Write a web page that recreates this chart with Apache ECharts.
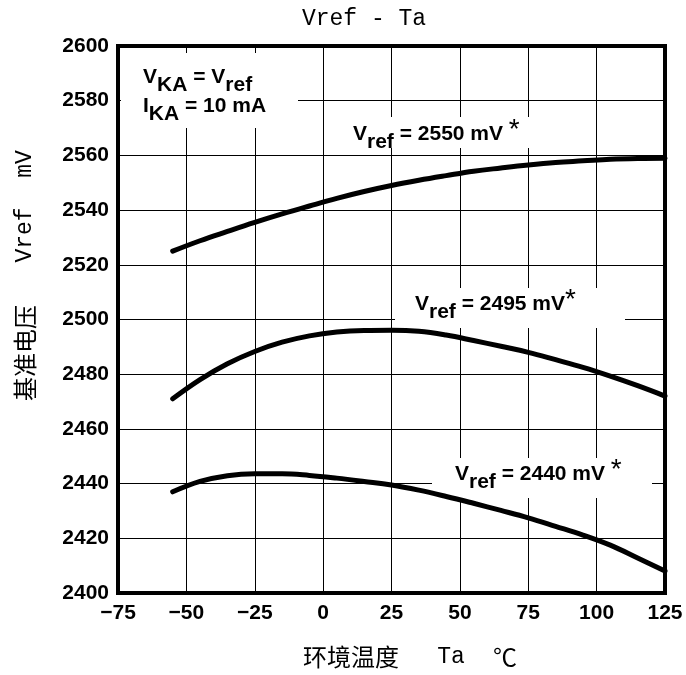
<!DOCTYPE html>
<html>
<head>
<meta charset="utf-8">
<script src="https://cdn.jsdelivr.net/npm/echarts@6/dist/echarts.min.js"></script>
<style>html,body{margin:0;padding:0;background:#fff;}#c{width:686px;height:675px;}</style>
</head>
<body>
<div id="c"></div>
<script>
// Data
const xTicks = [-75, -50, -25, 0, 25, 50, 75, 100, 125];
const yTicks = [2400, 2420, 2440, 2460, 2480, 2500, 2520, 2540, 2560, 2580, 2600];
const ta = [-55, -45, -35, -25, -15, -5, 5, 15, 25, 35, 45, 55, 65, 75, 85, 95, 105, 115, 125];
const v2550 = [2525, 2528.8, 2532.2, 2535.5, 2538.6, 2541.5, 2544.3, 2546.8, 2549, 2550.9, 2552.6, 2554.2, 2555.4, 2556.5, 2557.4, 2558, 2558.6, 2558.9, 2559];
const v2495 = [2471, 2478, 2483.8, 2488.3, 2491.7, 2494, 2495.4, 2496, 2496.1, 2495.7, 2494.3, 2492.3, 2490.2, 2488, 2485.3, 2482.5, 2479.3, 2475.8, 2472];
const v2440 = [2437, 2440.8, 2442.9, 2443.6, 2443.6, 2443, 2442, 2440.8, 2439.5, 2437.6, 2435.3, 2432.8, 2430.2, 2427.5, 2424.4, 2421.2, 2417.5, 2412.8, 2408];

const zip = (xs, ys) => xs.map((x, i) => [x, ys[i]]);
const chart = echarts.init(document.getElementById('c'));
const lbl = 'Liberation Sans, Arial, sans-serif';
const mono = 'Liberation Mono, Noto Sans CJK SC, monospace';
const cjk = 'Noto Sans CJK SC, sans-serif';
const rich = {
  n: {fontFamily: lbl, fontWeight: 'bold', fontSize: 21, color: '#000', padding: [8, 0, 0, 0], verticalAlign: 'top'},
  s: {fontFamily: lbl, fontWeight: 'bold', fontSize: 21, color: '#000', padding: [16, 0, 0, 0], verticalAlign: 'top'},
  a: {fontFamily: lbl, fontWeight: 'normal', fontSize: 28, color: '#000', padding: [0, 0, 0, 0], verticalAlign: 'top'}
};
const seriesStyle = {type: 'line', smooth: 0.4, showSymbol: false, symbol: 'none',
  lineStyle: {color: '#000', width: 5, cap: 'round'}, z: 2, silent: true};

function mask(x, y, w, h) {
  return {type: 'rect', shape: {x: x, y: y, width: w, height: h}, style: {fill: '#fff'}, z: 1, silent: true};
}
function txt(x, y, text) {
  return {type: 'text', x: x, y: y, z: 5, silent: true, style: {text: text, rich: rich, fill: '#000'}};
}

chart.setOption({
  animation: false,
  backgroundColor: '#fff',
  grid: {left: 118, right: 21, top: 46, bottom: 82, show: true, borderColor: '#000', borderWidth: 4, backgroundColor: 'transparent'},
  xAxis: {
    type: 'value', min: xTicks[0], max: xTicks[xTicks.length - 1], interval: 25,
    axisLine: {show: false}, axisTick: {show: false},
    splitLine: {show: true, lineStyle: {color: '#000', width: 1}},
    axisLabel: {margin: 10, color: '#000', fontFamily: lbl, fontWeight: 'bold', fontSize: 21,
      formatter: v => (v < 0 ? '\u2212' + Math.abs(v) : String(v))}
  },
  yAxis: {
    type: 'value', min: yTicks[0], max: yTicks[yTicks.length - 1], interval: 20,
    axisLine: {show: false},
    axisTick: {show: true, inside: false, length: 6, lineStyle: {color: '#000', width: 1}},
    splitLine: {show: true, lineStyle: {color: '#000', width: 1}},
    axisLabel: {margin: 9, color: '#000', fontFamily: lbl, fontWeight: 'bold', fontSize: 21,
      formatter: v => String(v)}
  },
  series: [
    Object.assign({name: '2550', data: zip(ta, v2550)}, seriesStyle),
    Object.assign({name: '2495', data: zip(ta, v2495)}, seriesStyle),
    Object.assign({name: '2440', data: zip(ta, v2440)}, seriesStyle)
  ],
  graphic: [
    mask(121, 53, 177, 75),
    mask(345, 117, 195, 31),
    mask(395, 288, 230, 40),
    mask(432, 458, 220, 40),
    txt(143, 59, '{n|V}{s|KA}{n| = V}{s|ref}'),
    txt(143, 88, '{n|I}{s|KA}{n| = 10 mA}'),
    txt(353, 116, '{n|V}{s|ref}{n| = 2550 mV }{a|*}'),
    txt(415, 286, '{n|V}{s|ref}{n| = 2495 mV}{a|*}'),
    txt(455, 456, '{n|V}{s|ref}{n| = 2440 mV }{a|*}'),
    {type: 'text', x: 364, y: 19, z: 5, style: {text: 'Vref - Ta', font: '23px ' + mono, fill: '#000', align: 'center', verticalAlign: 'middle'}},
    {type: 'text', x: 351, y: 657, z: 5, style: {text: '环境温度', font: '24px ' + cjk, fill: '#000', align: 'center', verticalAlign: 'middle'}},
    {type: 'text', x: 451, y: 657, z: 5, style: {text: 'Ta', font: '23px ' + mono, fill: '#000', align: 'center', verticalAlign: 'middle'}},
    {type: 'text', x: 505, y: 657, z: 5, style: {text: '℃', font: '24px ' + cjk, fill: '#000', align: 'center', verticalAlign: 'middle'}},
    {type: 'text', x: 25, y: 353, z: 5, rotation: Math.PI / 2, style: {text: '基准电压', font: '24px ' + cjk, fill: '#000', align: 'center', verticalAlign: 'middle'}},
    {type: 'text', x: 25, y: 235, z: 5, rotation: Math.PI / 2, style: {text: 'Vref', font: '23px ' + mono, fill: '#000', align: 'center', verticalAlign: 'middle'}},
    {type: 'text', x: 25, y: 164, z: 5, rotation: Math.PI / 2, style: {text: 'mV', font: '23px ' + mono, fill: '#000', align: 'center', verticalAlign: 'middle'}}
  ]
});
</script>
</body>
</html>
